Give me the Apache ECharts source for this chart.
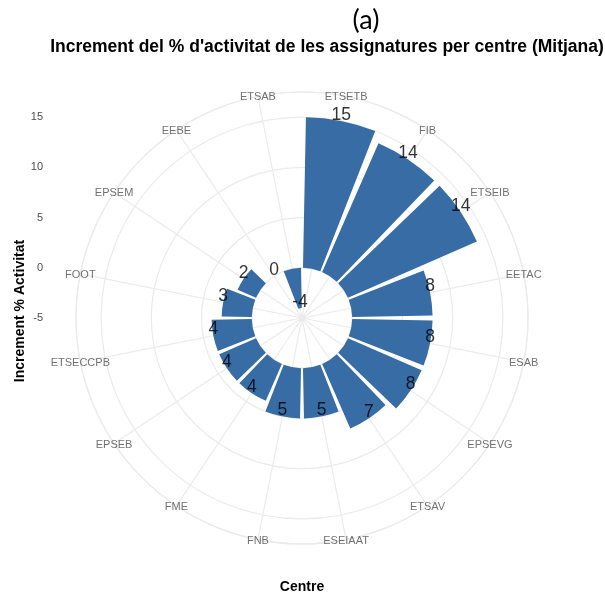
<!DOCTYPE html>
<html>
<head>
<meta charset="utf-8">
<script src="https://cdn.jsdelivr.net/npm/echarts@6/dist/echarts.min.js"></script>
<style>
  html, body { margin: 0; padding: 0; background: #fff; }
  #chart { width: 605px; height: 598px; }
</style>
</head>
<body>
<div id="chart"></div>
<script>
// centres, clockwise from the top
const centres = ['ETSETB', 'FIB', 'ETSEIB', 'EETAC', 'ESAB', 'EPSEVG', 'ETSAV', 'ESEIAAT',
  'FNB', 'FME', 'EPSEB', 'ETSECCPB', 'FOOT', 'EPSEM', 'EEBE', 'ETSAB']
const increments = [15, 14, 14, 8, 8, 8, 7, 5, 5, 4, 4, 4, 3, 2, 0, -4]
const radiusTicks = [-5, 0, 5, 10, 15]

const rMin = -5
const rMax = 17.5
const cx = 302
const cy = 318
const R = 226
const gridColor = '#ebebeb'
const textGrey = '#4d4d4d'

const chart = echarts.init(document.getElementById('chart'))

// helper for the free texts (titles)
const label = (text, x, y, font, rotation) => ({
  type: 'text',
  x: x,
  y: y,
  rotation: rotation || 0,
  style: { text: text, font: font, fill: '#000', textAlign: 'center', textVerticalAlign: 'middle' }
})

const option = {
  animation: false,
  polar: { center: [cx, cy], radius: R },
  angleAxis: {
    type: 'category',
    data: centres,
    startAngle: 90,
    clockwise: true,
    boundaryGap: true,
    axisLine: { show: true, lineStyle: { color: gridColor, width: 1.2 } },
    axisTick: { show: false, alignWithLabel: true, interval: 0 },
    axisLabel: { show: false, interval: 0 },
    splitLine: { show: true, interval: 0, lineStyle: { color: gridColor, width: 1.2 } },
    z: 0
  },
  radiusAxis: {
    type: 'value',
    min: rMin,
    max: rMax,
    interval: 5,
    axisLine: { show: false },
    axisTick: { show: false },
    axisLabel: { show: false },
    splitLine: { show: true, lineStyle: { color: gridColor, width: 1.2 } }
  },
  // plain cartesian axis on the left only for the radius tick labels
  grid: { left: 47, top: cy - R, width: 10, height: R },
  xAxis: { type: 'value', show: false },
  yAxis: {
    type: 'value',
    min: rMin,
    max: rMax,
    interval: 5,
    axisLine: { show: false },
    axisTick: { show: false },
    splitLine: { show: false },
    axisLabel: {
      margin: 4,
      fontFamily: 'Liberation Sans',
      fontSize: 11,
      color: textGrey,
      formatter: v => (radiusTicks.indexOf(v) >= 0 ? String(v) : '')
    }
  },
  graphic: [
    label('(a)', 366, 20, '27px Lato'),
    label("Increment del % d'activitat de les assignatures per centre (Mitjana)", 327, 47,
      'bold 17.5px "Liberation Sans"'),
    label('Increment % Activitat', 20, 311, 'bold 14px "Liberation Sans"', Math.PI / 2),
    label('Centre', 302, 587, 'bold 14px "Liberation Sans"')
  ],
  series: [{
    type: 'bar',
    coordinateSystem: 'polar',
    data: increments,
    barCategoryGap: '10%',
    itemStyle: { color: '#386ca5' },
    z: 2
  }, {
    // value labels sitting at the end of each bar
    type: 'scatter',
    coordinateSystem: 'polar',
    symbolSize: 0,
    data: increments.map((v, i) => [v, centres[i]]),
    label: {
      show: true,
      position: 'inside',
      offset: [0, -6],
      formatter: p => String(p.value[0]),
      fontFamily: 'Liberation Sans',
      fontSize: 17.5,
      color: '#000'
    },
    z: 3
  }, {
    // centre names on the outer circle
    type: 'scatter',
    coordinateSystem: 'polar',
    symbolSize: 0,
    data: centres.map(c => [rMax, c]),
    label: {
      show: true,
      position: 'inside',
      offset: [0, 1],
      formatter: p => p.value[1],
      fontFamily: 'Liberation Sans',
      fontSize: 11,
      color: textGrey
    },
    z: 3
  }]
}

chart.setOption(option)
</script>
</body>
</html>
